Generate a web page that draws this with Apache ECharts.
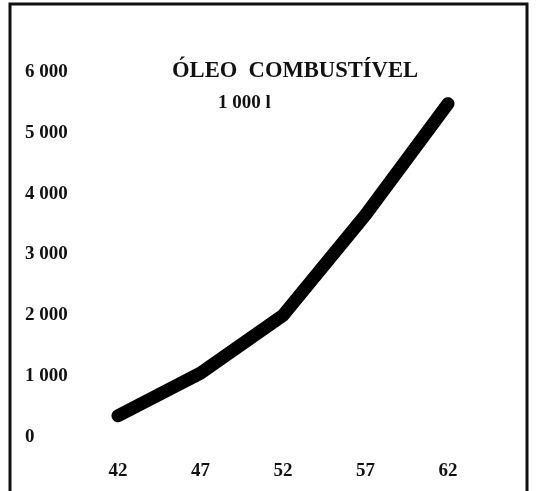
<!DOCTYPE html>
<html>
<head>
<meta charset="utf-8">
<script src="https://cdn.jsdelivr.net/npm/echarts@6/dist/echarts.min.js"></script>
<style>
html,body{margin:0;padding:0;background:#fff;}
#chart{width:536px;height:491px;}
</style>
</head>
<body>
<div id="chart"></div>
<script>
const years = [42, 47, 52, 57, 62];
const values = [350, 1050, 2000, 3650, 5480];
const yTicks = [0, 1000, 2000, 3000, 4000, 5000, 6000];
const titleText = 'ÓLEO  COMBUSTÍVEL';
const unitText = '1 000 l';

const font = '"Liberation Serif", "DejaVu Serif", serif';
const chart = echarts.init(document.getElementById('chart'), null, {renderer: 'canvas'});
chart.setOption({
  backgroundColor: '#ffffff',
  animation: false,
  title: [
    {text: titleText, left: 172, top: 60, padding: 0,
     textStyle: {fontFamily: font, fontWeight: 'bold', fontSize: 22.6, color: '#111'}},
    {text: unitText, left: 218, top: 94, padding: 0,
     textStyle: {fontFamily: font, fontWeight: 'bold', fontSize: 19, color: '#111'}}
  ],
  graphic: [
    {type: 'rect', shape: {x: 10, y: 4, width: 517, height: 520},
     style: {fill: 'none', stroke: '#111', lineWidth: 3}, silent: true}
  ],
  grid: {left: 118, right: 88, top: 72, bottom: 54},
  xAxis: {
    type: 'value', min: 42, max: 62, interval: 5,
    axisLine: {show: false}, axisTick: {show: false}, splitLine: {show: false},
    axisLabel: {margin: 25, fontFamily: font, fontWeight: 'bold', fontSize: 19, color: '#111'}
  },
  yAxis: {
    type: 'value', min: 0, max: 6000, interval: 1000,
    axisLine: {show: false}, axisTick: {show: false}, splitLine: {show: false},
    axisLabel: {
      align: 'left', margin: 93, fontFamily: font, fontWeight: 'bold', fontSize: 19, color: '#111',
      formatter: function (v) {
        if (yTicks.indexOf(v) < 0) return '';
        return v === 0 ? '0' : (v / 1000) + ' 000';
      }
    }
  },
  series: [{
    type: 'line',
    data: years.map((y, i) => [y, values[i]]),
    symbol: 'none',
    lineStyle: {color: '#000', width: 13, cap: 'round', join: 'round'}
  }]
});
</script>
</body>
</html>
